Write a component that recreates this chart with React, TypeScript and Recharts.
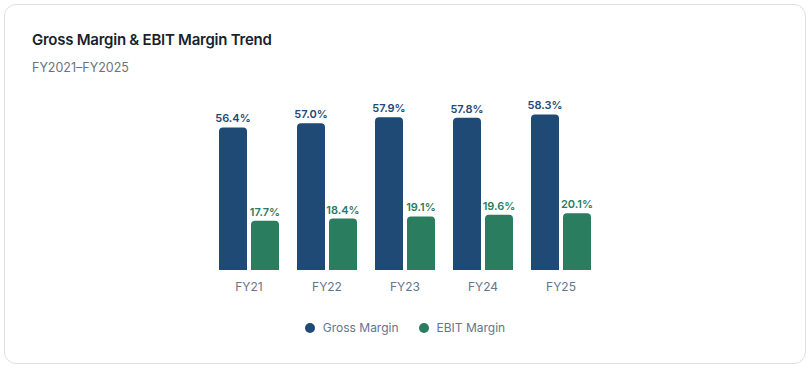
import { BarChart, Bar, XAxis, YAxis, Legend, LabelList } from "recharts";

const years = ["FY21", "FY22", "FY23", "FY24", "FY25"];
const grossMargin = [56.4, 57.0, 57.9, 57.8, 58.3];
const ebitMargin = [17.7, 18.4, 19.1, 19.6, 20.1];
const seriesNames = ["Gross Margin", "EBIT Margin"];

const GROSS = "#1e4a75";
const EBIT = "#2a7d5e";

const data = years.map((year, i) => ({
  year,
  gross: grossMargin[i],
  ebit: ebitMargin[i],
}));

const pct = (v: any) => `${Number(v).toFixed(1)}%`;

const renderLegend = ({ payload }: any) => {
  const items = [...(payload || [])].sort(
    (a: any, b: any) => seriesNames.indexOf(a.value) - seriesNames.indexOf(b.value)
  );
  return (
    <div
      style={{
        paddingTop: 20,
        height: 50,
        boxSizing: "border-box",
        display: "flex",
        justifyContent: "center",
        alignItems: "flex-start",
        gap: 20,
        fontSize: 12,
        lineHeight: "16px",
        color: "#64748b",
      }}
    >
      {items.map((entry: any) => (
        <span key={entry.value} style={{ display: "flex", alignItems: "center" }}>
          <span
            style={{
              width: 10,
              height: 10,
              borderRadius: "50%",
              background: entry.color,
              marginRight: 8,
              display: "inline-block",
            }}
          />
          {entry.value}
        </span>
      ))}
    </div>
  );
};

const App = () => {
  return (
    <div
      style={{
        position: "absolute",
        left: 4,
        top: 4,
        width: 802,
        height: 360,
        boxSizing: "border-box",
        border: "1px solid #dcdfe4",
        borderRadius: 12,
        background: "#fff",
        fontFamily: "Inter, sans-serif",
      }}
    >
      <div
        style={{
          position: "absolute",
          left: 27,
          top: 26.5,
          fontSize: 15,
          lineHeight: "15px",
          fontWeight: 600,
          letterSpacing: -0.25,
          color: "#1a1f2e",
          whiteSpace: "nowrap",
        }}
      >
        Gross Margin &amp; EBIT Margin Trend
      </div>
      <div
        style={{
          position: "absolute",
          left: 27,
          top: 56,
          fontSize: 12.5,
          lineHeight: "13px",
          color: "#6b7280",
          whiteSpace: "nowrap",
        }}
      >
        FY2021–FY2025
      </div>
      <div style={{ position: "absolute", left: 27, top: 85 }}>
        <BarChart
          width={746}
          height={260}
          data={data}
          margin={{ top: 10, right: 178, bottom: 0, left: 178 }}
          barGap={4}
          barCategoryGap={9}
        >
          <XAxis
            dataKey="year"
            axisLine={false}
            tickLine={false}
            tickMargin={6}
            tick={{ fill: "#64748b", fontSize: 12 }}
          />
          <YAxis yAxisId="gross" hide domain={[35.6, 60.4]} allowDataOverflow />
          <YAxis yAxisId="ebit" hide domain={[1.7, 56.9]} allowDataOverflow />
          <Legend verticalAlign="bottom" content={renderLegend} />
          <Bar
            yAxisId="gross"
            dataKey="gross"
            name={seriesNames[0]}
            fill={GROSS}
            barSize={28}
            radius={[4, 4, 0, 0]}
            isAnimationActive={false}
          >
            <LabelList
              dataKey="gross"
              position="top"
              formatter={pct}
              style={{ fill: GROSS, fontSize: 11, fontWeight: 600 }}
            />
          </Bar>
          <Bar
            yAxisId="ebit"
            dataKey="ebit"
            name={seriesNames[1]}
            fill={EBIT}
            barSize={28}
            radius={[4, 4, 0, 0]}
            isAnimationActive={false}
          >
            <LabelList
              dataKey="ebit"
              position="top"
              formatter={pct}
              style={{ fill: EBIT, fontSize: 11, fontWeight: 600 }}
            />
          </Bar>
        </BarChart>
      </div>
    </div>
  );
};

export default App;
